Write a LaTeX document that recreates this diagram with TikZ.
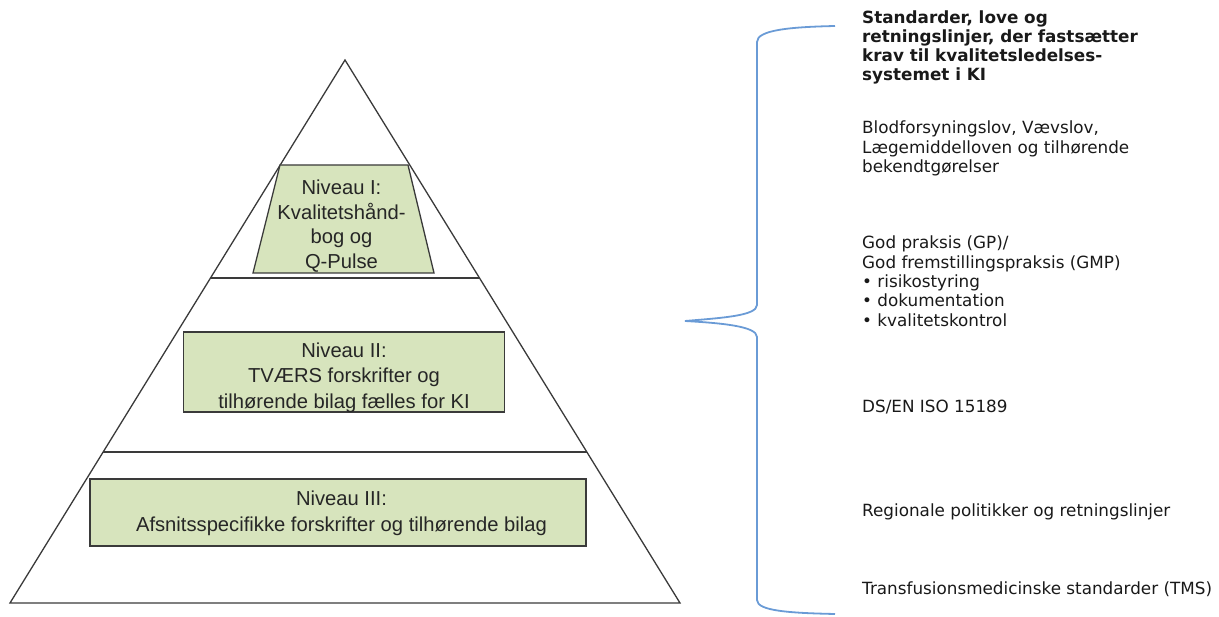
\documentclass[tikz,border=0pt]{standalone}
\usepackage{fontspec}
\newfontfamily\arialf{Liberation Sans}
\newfontfamily\verdf{DejaVu Sans}
\usetikzlibrary{calc}
\definecolor{lvlgreen}{HTML}{D7E4BD}
\definecolor{braceblue}{HTML}{6A9BD6}
\definecolor{edgegray}{HTML}{3A3A3A}
\begin{document}
\begin{tikzpicture}[x=1pt,y=-1pt,
  pyr/.style={draw=edgegray,line width=1.3pt},
  lvlbox/.style={draw=edgegray,fill=lvlgreen,line width=1.3pt},
  lvltext/.style={inner sep=0pt,anchor=base,text=black!85,font=\arialf\fontsize{20.2}{24}\selectfont},
  rtext/.style={inner sep=0pt,anchor=base west,text=black!90,font=\verdf\fontsize{16.8}{19.3}\selectfont},
  bracestyle/.style={draw=braceblue,line width=1.8pt}]
\useasboundingbox (0,0) rectangle (1219,617);
% pyramid
\coordinate (apex) at (345,60);
\coordinate (bl) at (10,603);
\coordinate (br) at (680,603);
\draw[pyr] (apex) -- (br) -- (bl) -- cycle;
\draw[pyr] ($(bl)!0.2781!(apex)$) -- ($(br)!0.2781!(apex)$);
\draw[pyr] ($(bl)!0.5985!(apex)$) -- ($(br)!0.5985!(apex)$);
% level I trapezoid
\draw[lvlbox] (280,165) -- (408,165) -- (434,273) -- (253,273) -- cycle;
\node[lvltext,font=\arialf\fontsize{20.2}{24.6}\selectfont] (t1) at (341.5,194.5)
  {\parbox[t]{200pt}{\centering Niveau I:\\Kvalitetshånd-\\bog og\\Q-Pulse}};
% level II
\node[lvlbox,minimum width=321pt,minimum height=80pt,inner sep=0pt] (n2) at (344,372) {};
\node[lvltext,font=\arialf\fontsize{20.2}{25.5}\selectfont] (t2) at (344,357.5)
  {\parbox[t]{320pt}{\centering Niveau II:\\TVÆRS forskrifter og\\tilhørende bilag fælles for KI}};
% level III
\node[lvlbox,minimum width=496pt,minimum height=67pt,inner sep=0pt] (n3) at (338,512.5) {};
\node[lvltext,font=\arialf\fontsize{20.2}{25.5}\selectfont] (t3) at (341.5,506)
  {\parbox[t]{490pt}{\centering Niveau III:\\Afsnitsspecifikke forskrifter og tilhørende bilag}};
% brace
\coordinate (btop) at (835,26);
\coordinate (btip) at (685,321);
\coordinate (bbot) at (835,614);
\draw[bracestyle] (btop) .. controls (790,27) and (757,30) .. (757,42) -- (757,305)
  .. controls (757,316) and (720,318) .. (btip)
  .. controls (720,323) and (757,326) .. (757,337) -- (757,600)
  .. controls (757,611) and (790,613) .. (bbot);
% right texts
\node[rtext,font=\verdf\bfseries\fontsize{16.8}{19}\selectfont] (hd) at (862,24)
  {\parbox[t]{340pt}{\raggedright Standarder, love og\\retningslinjer, der fastsætter\\krav til kvalitetsledelses-\\systemet i KI}};
\node[rtext] (r1) at (862,134)
  {\parbox[t]{340pt}{\raggedright Blodforsyningslov, Vævslov,\\Lægemiddelloven og tilhørende\\bekendtgørelser}};
\node[rtext] (r2) at (862,249)
  {\parbox[t]{340pt}{\raggedright God praksis (GP)/\\God fremstillingspraksis (GMP)\\• risikostyring\\• dokumentation\\• kvalitetskontrol}};
\node[rtext] (r3) at (862,413) {DS/EN ISO 15189};
\node[rtext] (r4) at (862,516.5) {Regionale politikker og retningslinjer};
\node[rtext] (r5) at (862,594.5) {Transfusionsmedicinske standarder (TMS)};
\end{tikzpicture}
\end{document}
